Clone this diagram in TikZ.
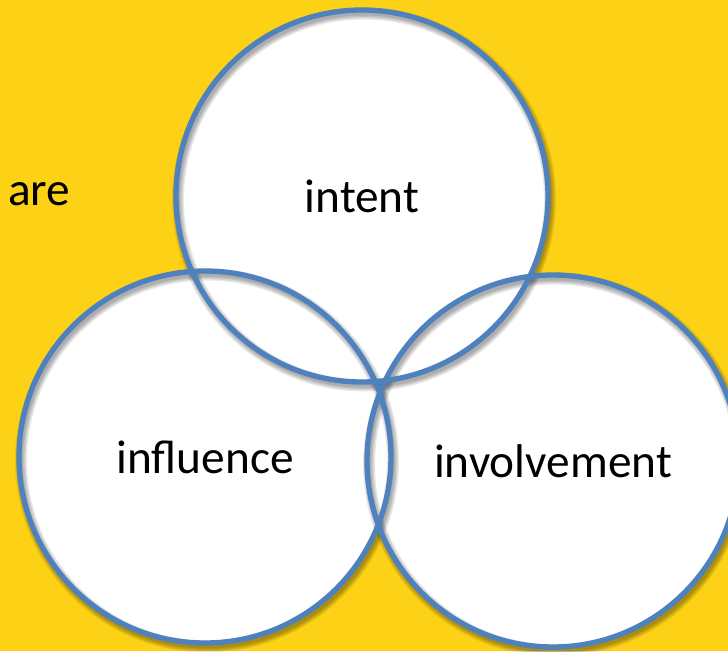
\documentclass[tikz,border=0pt]{standalone}
\usepackage{fontspec}
\setmainfont{Carlito}
\usepackage{xcolor}
\definecolor{Col1}{RGB}{253,210,22}
\definecolor{Col2}{RGB}{79,129,189}
\usepackage{tikz}
\usetikzlibrary{shapes}
\tikzstyle{Ring}=[circle,draw=Col2,line width=4pt,minimum size=279pt,
inner sep=0pt,font=\fontsize{35.5}{40}\selectfont]
\tikzstyle{Disc}=[fill=white]
\tikzstyle{Shade}=[draw=black,opacity=.09]
\tikzstyle{NodeST}=[font=\fontsize{35.5}{40}\selectfont,inner sep=0pt]

\begin{document}
\begin{tikzpicture}[x=0.75pt,y=-0.75pt]
        \useasboundingbox(0,0)rectangle(728,651);
        \fill[Col1](0,0)rectangle(728,651);
        \coordinate(cI)at(362,196);
        \coordinate(cF)at(205,457);
        \coordinate(cV)at(553,461);
        \fill[Disc](cI)circle[radius=186];
        \fill[Disc](cF)circle[radius=186];
        \fill[Disc](cV)circle[radius=186];
        \foreach \c in {cI,cF,cV}
          \foreach \w in {3,5,7,9}
            \draw[Shade,line width=\w pt]([shift={(2,3.5)}]\c)circle[radius=186];
        \node[Ring](intent)at(cI){intent};
        \node[Ring](influence)at(cF){influence};
        \node[Ring](involvement)at(cV){involvement};
        \node[NodeST,anchor=base west](are)at(8,205){are};
    \end{tikzpicture}
\end{document}
